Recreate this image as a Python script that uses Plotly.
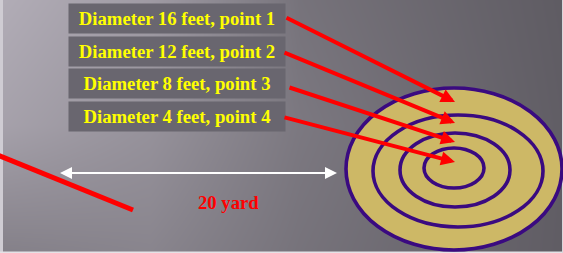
import plotly.graph_objects as go

# ---- data ----
diameters_ft = [16, 12, 8, 4]
points = [1, 2, 3, 4]
distance_label = "20 yard"
labels = [f"Diameter {d} feet, point {p}" for d, p in zip(diameters_ft, points)]

# ---- layout geometry (pixel-space axes) ----
W, H = 563, 253
ring_cx = [454, 458, 455, 454]
ring_cy = [169, 171, 170, 168]
ring_rx = [108, 85, 55, 30]
ring_ry = [81, 56, 37, 20]
label_cx = 177
label_cy = [18.5, 51.5, 83.5, 116.5]
arrow_tail = [(285, 17), (283, 52), (288, 87), (283, 117)]
arrow_tip = [(455, 102), (455, 123), (455, 142), (455, 162)]

# background brightness grid (hand-picked shading)
bg_x = [0, 150, 300, 563]
bg_y = [0, 125, 253]
bg_z = [[0.95, 0.75, 0.30, 0.04],
        [0.82, 0.65, 0.36, 0.06],
        [0.45, 0.50, 0.30, 0.05]]

fig = go.Figure()
fig.add_trace(go.Heatmap(x=bg_x, y=bg_y, z=bg_z, zsmooth="best", showscale=False,
                         zmin=0, zmax=1, hoverinfo="skip",
                         colorscale=[[0, "#5b585f"], [1, "#b6b1bb"]]))

shapes = []
# light frame edges
shapes.append(dict(type="rect", x0=0, x1=3, y0=0, y1=H, fillcolor="#cfccd3", line_width=0, layer="above"))
shapes.append(dict(type="rect", x0=0, x1=W, y0=251.5, y1=H, fillcolor="#e4e2e6", line_width=0, layer="above"))
shapes.append(dict(type="rect", x0=562, x1=W, y0=0, y1=H, fillcolor="#d8d6da", line_width=0, layer="above"))

for i, (cx, cy, rx, ry) in enumerate(zip(ring_cx, ring_cy, ring_rx, ring_ry)):
    shapes.append(dict(type="circle", x0=cx - rx, x1=cx + rx, y0=cy - ry, y1=cy + ry,
                       fillcolor="#cdb866" if i == 0 else "rgba(0,0,0,0)",
                       line=dict(color="#3a0a80", width=3.6), layer="above"))

# stray red arrow shaft at left
shapes.append(dict(type="line", x0=-5, y0=154, x1=133, y1=210,
                   line=dict(color="#ff0000", width=5), layer="above"))

# white distance line
shapes.append(dict(type="line", x0=64, y0=173, x1=333, y1=173,
                   line=dict(color="#ffffff", width=2), layer="above"))

annotations = []
for txt, cy in zip(labels, label_cy):
    annotations.append(dict(x=label_cx, y=cy, xref="x", yref="y", text=f"<b>{txt}</b>",
                            showarrow=False, width=216, height=29, bgcolor="#69666f",
                            borderpad=0, align="center", valign="middle",
                            font=dict(family="Liberation Serif", size=18.7, color="#ffff00")))

for (tx, ty), (hx, hy) in zip(arrow_tail, arrow_tip):
    annotations.append(dict(x=hx, y=hy, ax=tx, ay=ty, xref="x", yref="y", axref="x", ayref="y",
                            text="", showarrow=True, arrowhead=2, arrowsize=0.7, arrowwidth=4,
                            arrowcolor="#ff0000", standoff=0, startstandoff=0))

# white double-headed distance arrow heads
mid = 198
for end in (60, 337):
    annotations.append(dict(x=end, y=173, ax=mid, ay=173, xref="x", yref="y", axref="x", ayref="y",
                            text="", showarrow=True, arrowhead=2, arrowsize=1.2, arrowwidth=2,
                            arrowcolor="#ffffff", standoff=0, startstandoff=0))

annotations.append(dict(x=228, y=202, xref="x", yref="y", text=f"<b>{distance_label}</b>",
                        showarrow=False,
                        font=dict(family="Liberation Serif", size=18.7, color="#ff0000")))

fig.update_layout(width=W, height=H, margin=dict(l=0, r=0, t=0, b=0),
                  shapes=shapes, annotations=annotations,
                  plot_bgcolor="#6a676e", paper_bgcolor="#6a676e", showlegend=False,
                  xaxis=dict(range=[0, W], visible=False, fixedrange=True),
                  yaxis=dict(range=[H, 0], visible=False, fixedrange=True))

fig.write_html("out.html", config={"displayModeBar": False},
               post_script="document.body.style.margin='0';document.body.style.overflow='hidden';")
